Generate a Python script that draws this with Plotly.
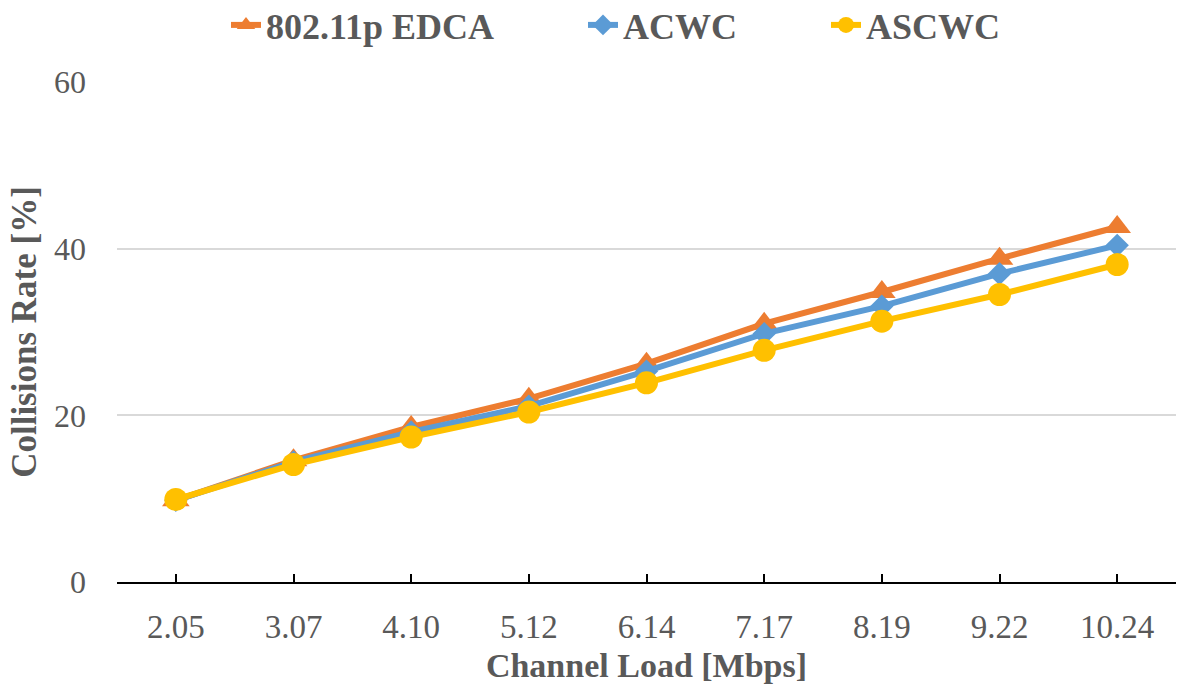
import plotly.graph_objects as go

# Channel load categories (Mbps)
loads = ["2.05", "3.07", "4.10", "5.12", "6.14", "7.17", "8.19", "9.22", "10.24"]

# Collision rate (%) per scheme
edca = [9.8, 14.6, 18.6, 22.0, 26.2, 31.0, 34.8, 38.8, 42.6]
acwc = [9.8, 14.4, 18.0, 21.1, 25.3, 29.8, 33.1, 37.0, 40.4]
ascwc = [9.9, 14.1, 17.4, 20.4, 23.9, 27.8, 31.3, 34.5, 38.1]

y_ticks = [0, 20, 40, 60]

FONT = "Liberation Serif, Times New Roman, serif"
GRAY = "#595959"
LW = 6

fig = go.Figure()
fig.add_trace(go.Scatter(
    x=loads, y=edca, name="802.11p EDCA", mode="lines+markers",
    line=dict(color="#ED7D31", width=LW),
    marker=dict(symbol="triangle-up", size=24, color="#ED7D31"),
    legend="legend",
))
fig.add_trace(go.Scatter(
    x=loads, y=acwc, name="ACWC", mode="lines+markers",
    line=dict(color="#5B9BD5", width=LW),
    marker=dict(symbol="diamond", size=18, color="#5B9BD5"),
    legend="legend2",
))
fig.add_trace(go.Scatter(
    x=loads, y=ascwc, name="ASCWC", mode="lines+markers",
    line=dict(color="#FFC000", width=LW),
    marker=dict(symbol="circle", size=23, color="#FFC000"),
    legend="legend3",
))

# one legend box per series, laid out along the top
legend_font = dict(family=FONT, size=36, color=GRAY, weight="bold")


def top_legend(x_px):
    return dict(
        orientation="h", x=x_px / 1178, xanchor="left",
        y=1 - 25 / 689, yanchor="middle",
        xref="container", yref="container",
        font=legend_font, bgcolor="rgba(0,0,0,0)",
        itemwidth=30,
    )


fig.update_layout(
    width=1178, height=689,
    margin=dict(l=117, r=2, t=82, b=107),
    paper_bgcolor="white", plot_bgcolor="white",
    font=dict(family=FONT, color=GRAY, size=30),
    showlegend=True,
    legend=top_legend(226),
    legend2=top_legend(583),
    legend3=top_legend(826),
    xaxis=dict(
        type="category", range=[-0.5, 8.5],
        showgrid=False, showline=True, linecolor="#000000", linewidth=2,
        ticks="inside", ticklen=8, tickcolor="#000000", tickwidth=2,
        ticklabelstandoff=14,
        tickfont=dict(family=FONT, size=33, color=GRAY),
        title=dict(text="<b>Channel Load [Mbps]</b>", standoff=10,
                   font=dict(family=FONT, size=34, color=GRAY)),
        zeroline=False,
    ),
    yaxis=dict(
        range=[0, 60], tickvals=y_ticks,
        showgrid=True, gridcolor="#D9D9D9", gridwidth=2,
        showline=False, zeroline=False, ticks="",
        ticklabelstandoff=30,
        tickfont=dict(family=FONT, size=32, color=GRAY),
        title=dict(text="<b>Collisions Rate [%]</b>", standoff=6,
                   font=dict(family=FONT, size=35, color=GRAY)),
    ),
)

fig.write_html("out.html")
